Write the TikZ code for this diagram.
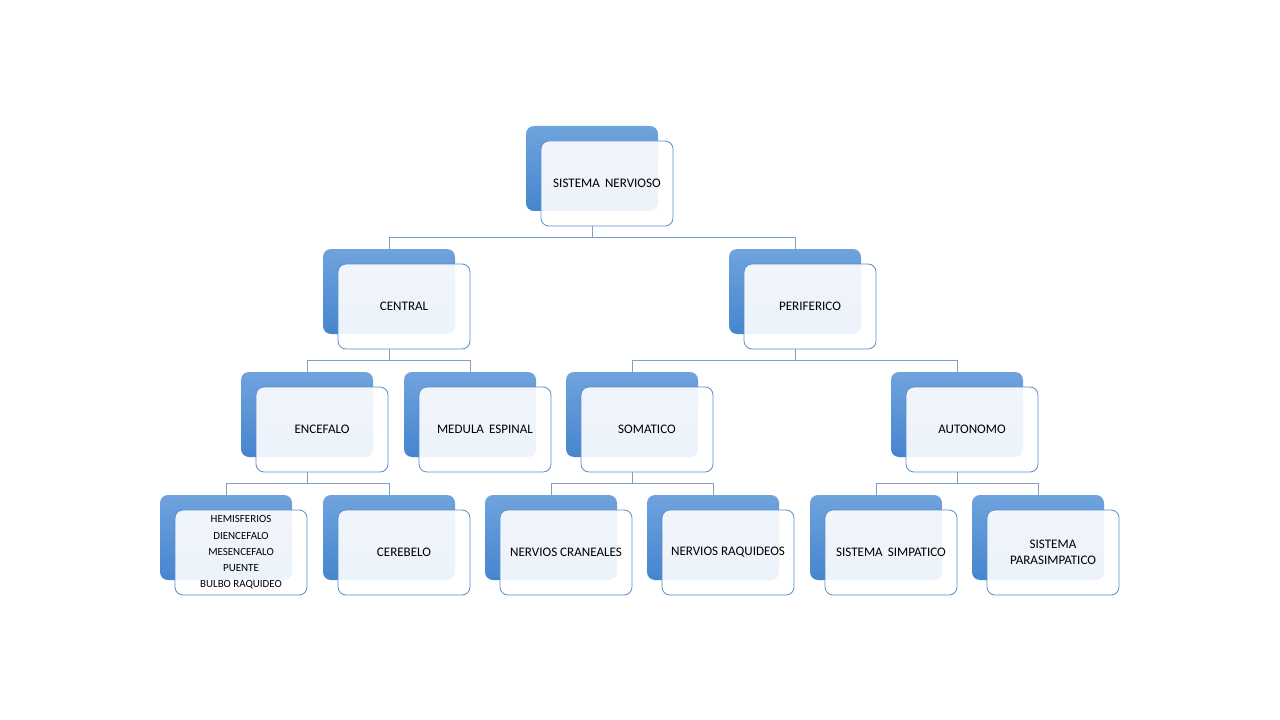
\documentclass[tikz,border=0pt]{standalone}
\usepackage{fontspec}
\setmainfont{Carlito}
\begin{document}
\begin{tikzpicture}[x=0.75pt,y=-0.75pt,
  backbox/.style={rounded corners=6pt, top color=bluetop, bottom color=bluebot, draw=none,
    minimum width=99pt, minimum height=63.75pt, inner sep=0pt, outer sep=0pt},
  frontbox/.style={rounded corners=6pt, draw=frontline, line width=0.6pt, fill=white,
    fill opacity=0.9, text opacity=1, minimum width=99pt, minimum height=63.75pt,
    inner sep=1pt, outer sep=0pt, align=center, font=\fontsize{9.8pt}{12pt}\selectfont, text=black},
  conn/.style={draw=connline, line width=0.6pt}
]
\definecolor{bluetop}{HTML}{6FA3DD}
\definecolor{bluebot}{HTML}{4685CF}
\definecolor{frontline}{HTML}{5B8FCB}
\definecolor{connline}{HTML}{7F9FC3}
\useasboundingbox (0,0) rectangle (1280,720);
\fill[white] (0,0) rectangle (1280,720);

\newcommand{\pairbox}[4]{%
  \node[backbox, anchor=north west] (#1-b) at (#2,#3) {};
  \node[frontbox, anchor=north west] (#1) at (#2+15,#3+15) {#4};
}

\pairbox{sn}{526}{126}{SISTEMA\ \,NERVIOSO}
\pairbox{cen}{323}{249}{CENTRAL}
\pairbox{per}{729}{249}{PERIFERICO}
\pairbox{enc}{241}{372}{ENCEFALO}
\pairbox{med}{404}{372}{MEDULA\ \,ESPINAL}
\pairbox{som}{566}{372}{SOMATICO}
\pairbox{aut}{891}{372}{AUTONOMO}
\node[backbox, anchor=north west] (hem-b) at (160,495) {};
\node[frontbox, anchor=north west, font=\fontsize{8.2pt}{12.2pt}\selectfont] (hem) at (175,510) {HEMISFERIOS\\DIENCEFALO\\MESENCEFALO\\PUENTE\\BULBO RAQUIDEO};
\pairbox{cer}{323}{495}{CEREBELO}
\pairbox{ncr}{485}{495}{NERVIOS CRANEALES}
\pairbox{nrq}{647}{495}{NERVIOS RAQUIDEOS}
\pairbox{sim}{810}{495}{SISTEMA\ \,SIMPATICO}
\pairbox{par}{972}{495}{SISTEMA\\PARASIMPATICO}

\coordinate (bus1) at (0,237);
\coordinate (bus2) at (0,360);
\coordinate (bus3) at (0,483);

\draw[conn] (sn-b.center |- sn.south) -- (sn-b.center |- bus1);
\draw[conn] (sn-b.center |- bus1) -| (cen-b.north);
\draw[conn] (sn-b.center |- bus1) -| (per-b.north);

\draw[conn] (cen-b.center |- cen.south) -- (cen-b.center |- bus2);
\draw[conn] (cen-b.center |- bus2) -| (enc-b.north);
\draw[conn] (cen-b.center |- bus2) -| (med-b.north);

\draw[conn] (per-b.center |- per.south) -- (per-b.center |- bus2);
\draw[conn] (per-b.center |- bus2) -| (som-b.north);
\draw[conn] (per-b.center |- bus2) -| (aut-b.north);

\draw[conn] (enc-b.center |- enc.south) -- (enc-b.center |- bus3);
\draw[conn] (enc-b.center |- bus3) -| (hem-b.north);
\draw[conn] (enc-b.center |- bus3) -| (cer-b.north);

\draw[conn] (som-b.center |- som.south) -- (som-b.center |- bus3);
\draw[conn] (som-b.center |- bus3) -| (ncr-b.north);
\draw[conn] (som-b.center |- bus3) -| (nrq-b.north);

\draw[conn] (aut-b.center |- aut.south) -- (aut-b.center |- bus3);
\draw[conn] (aut-b.center |- bus3) -| (sim-b.north);
\draw[conn] (aut-b.center |- bus3) -| (par-b.north);
\end{tikzpicture}
\end{document}
